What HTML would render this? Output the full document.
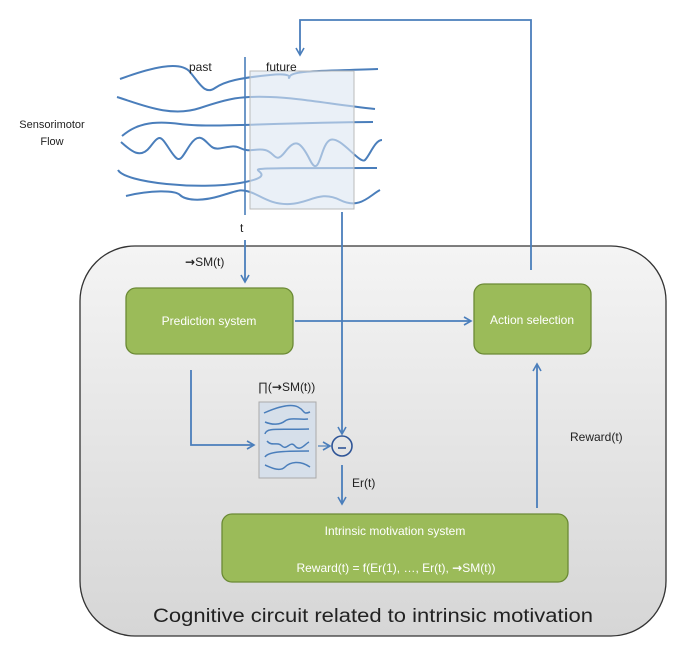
<!DOCTYPE html>
<html><head><meta charset="utf-8"><style>
html,body{margin:0;padding:0;background:#fff;width:678px;height:648px;overflow:hidden}
text{font-family:"Liberation Sans","DejaVu Sans",sans-serif}
.ar{font-family:"DejaVu Sans",sans-serif;font-weight:bold}
</style></head><body>
<svg width="678" height="648" viewBox="0 0 678 648" xmlns="http://www.w3.org/2000/svg">
<defs>
<linearGradient id="bg" x1="0" y1="0" x2="0" y2="1">
<stop offset="0" stop-color="#f4f4f4"/><stop offset="1" stop-color="#d6d6d6"/></linearGradient>
<marker id="ah" markerWidth="10" markerHeight="10" refX="8" refY="5" orient="auto" markerUnits="userSpaceOnUse">
<path d="M1,1 L8,5 L1,9" fill="none" stroke="#4a7ebb" stroke-width="1.6"/></marker>
</defs>
<rect x="80" y="246" width="586" height="390" rx="55" fill="url(#bg)" stroke="#333" stroke-width="1.3"/>
<g fill="none" stroke="#4a7ebb" stroke-width="2">
<path d="M120,79 C150,68 180,60 190,72 S205,95 215,88 S240,78 270,75 S285,82 290,76 S330,71 378,69"/>
<path d="M117,97 C140,104 170,118 200,108 S240,96 270,97 S330,104 375,109"/>
<path d="M122,136 C135,125 150,120 180,124 S260,123 373,122"/>
<path d="M121,142 C130,150 140,160 150,147 S160,135 170,150 S180,160 190,145 S205,142 212,147 S230,143 240,148 S255,148 265,150 S275,165 285,152 S300,140 310,160 S320,145 330,140 S360,165 365,160 S375,140 382,140"/>
<path d="M118,170 C125,183 200,190 240,183 S250,170 260,169 S300,168 377,168"/>
<path d="M126,196 C150,190 175,190 180,195 S200,202 220,196 S240,189 250,192 S270,205 290,204 S320,190 340,200 S370,195 380,190"/>
</g>
<!-- future box overlay -->
<rect x="250" y="71" width="104" height="138" fill="#dce6f2" fill-opacity="0.6" stroke="#bbb" stroke-width="1"/>
<line x1="245" y1="57" x2="245" y2="215" stroke="#4a7ebb" stroke-width="1.6"/>
<text x="189" y="71" font-size="12" fill="#222">past</text>
<text x="266" y="71" font-size="12" fill="#222">future</text>
<text x="52" y="128" font-size="11" fill="#222" text-anchor="middle">Sensorimotor</text>
<text x="52" y="145" font-size="11" fill="#222" text-anchor="middle">Flow</text>
<text x="240" y="232" font-size="12" fill="#222">t</text>
<text x="185" y="266" font-size="12" fill="#222"><tspan class="ar">→</tspan>SM(t)</text>
<g stroke="#4a7ebb" stroke-width="1.8" fill="none">
<polyline points="531,270 531,20 300,20 300,55" marker-end="url(#ah)"/>
<line x1="245" y1="240" x2="245" y2="282" marker-end="url(#ah)"/>
<line x1="295" y1="321" x2="471" y2="321" marker-end="url(#ah)"/>
<line x1="342" y1="212" x2="342" y2="434" marker-end="url(#ah)"/>
<line x1="342" y1="465" x2="342" y2="504" marker-end="url(#ah)"/>
<polyline points="191,370 191,445 254,445" marker-end="url(#ah)"/>
<line x1="537" y1="508" x2="537" y2="364" marker-end="url(#ah)"/>
</g>
<line x1="318" y1="446" x2="330" y2="446" stroke="#4a7ebb" stroke-width="1.2" marker-end="url(#ah)"/>
<circle cx="342" cy="446" r="10" fill="none" stroke="#2f5597" stroke-width="1.6"/>
<line x1="338" y1="448" x2="346" y2="448" stroke="#2f5597" stroke-width="1.6"/>
<rect x="259" y="402" width="57" height="76" fill="#d6dfea" stroke="#aaa" stroke-width="1"/>
<g fill="none" stroke="#4a7ebb" stroke-width="1.5">
<path d="M264,413 C275,408 290,403 298,407 S302,415 310,412"/>
<path d="M265,422 C272,425 280,425 285,421 S300,420 308,419"/>
<path d="M265,434 C266,427 280,430 309,429"/>
<path d="M267,441 C272,447 277,441 282,446 S290,440 295,446 S305,444 309,442"/>
<path d="M265,457 C268,452 280,451 309,451"/>
<path d="M265,465 C272,468 280,472 285,467 S300,460 310,467"/>
</g>
<text x="258" y="391" font-size="12" fill="#222">∏(<tspan class="ar">→</tspan>SM(t))</text>
<text x="352" y="487" font-size="12" fill="#222">Er(t)</text>
<text x="570" y="441" font-size="12" fill="#222">Reward(t)</text>
<g fill="#9bbb59" stroke="#6b8a35" stroke-width="1.3">
<rect x="126" y="288" width="167" height="66" rx="10"/>
<rect x="474" y="284" width="117" height="70" rx="10"/>
<rect x="222" y="514" width="346" height="68" rx="10"/>
</g>
<g fill="#fff" font-size="12" text-anchor="middle">
<text x="209" y="325">Prediction system</text>
<text x="532" y="324">Action selection</text>
<text x="395" y="535">Intrinsic motivation system</text>
<text x="396" y="572">Reward(t) = f(Er(1), …, Er(t), <tspan class="ar">→</tspan>SM(t))</text>
</g>
<text x="373" y="622" font-size="19" fill="#222" text-anchor="middle" textLength="440" lengthAdjust="spacingAndGlyphs">Cognitive circuit related to intrinsic motivation</text>
</svg>
</body></html>
